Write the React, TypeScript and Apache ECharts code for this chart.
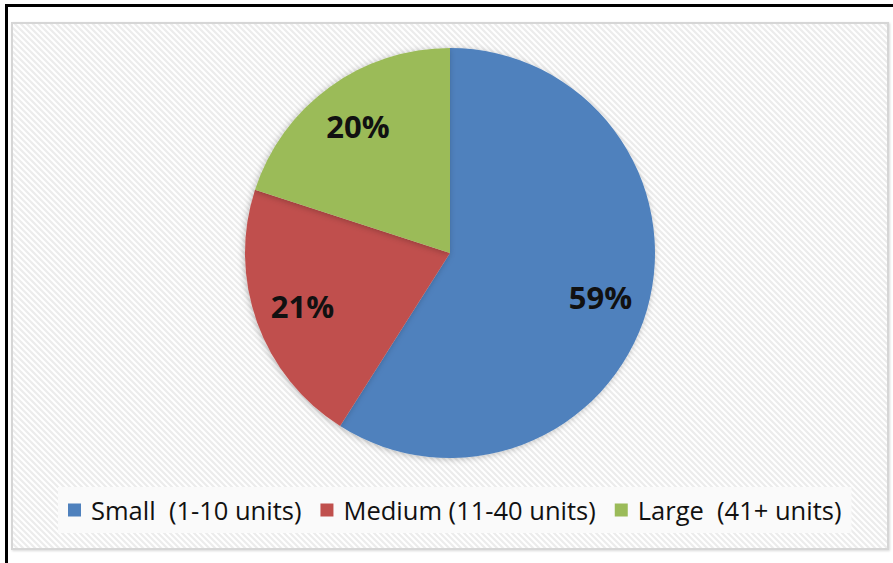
import React, { useEffect, useRef } from "react";
import * as echarts from "echarts";

const categories = ["Small  (1-10 units)", "Medium (11-40 units)", "Large  (41+ units)"];
const values = [59, 21, 20];
const colors = ["#4F81BD", "#C0504D", "#9BBB59"];

const stripeSvg =
  "data:image/svg+xml;utf8," +
  encodeURIComponent(
    '<svg xmlns="http://www.w3.org/2000/svg" width="6" height="6">' +
      '<rect width="6" height="6" fill="#ececec"/>' +
      '<path d="M-1,-1 L7,7 M-1,5 L1,7 M5,-1 L7,1" stroke="#ffffff" stroke-width="2"/>' +
      "</svg>"
  );

export default function App() {
  const ref = useRef<HTMLDivElement>(null);
  useEffect(() => {
    document.body.style.margin = "0";
    const chart = echarts.init(ref.current!, undefined, { renderer: "svg" });
    const data = categories.map((name, i) => ({ name, value: values[i], itemStyle: { color: colors[i] } }));
    chart.setOption({
      animation: false,
      backgroundColor: "#ffffff",
      graphic: [
        {
          type: "rect",
          z: -10,
          shape: { x: 12, y: 23, width: 876, height: 526 },
          style: {
            fill: { image: stripeSvg, repeat: "repeat" },
            stroke: "#d6d6d6",
            lineWidth: 2,
            shadowBlur: 2,
            shadowOffsetX: 1,
            shadowOffsetY: 1,
            shadowColor: "rgba(0,0,0,0.15)",
          },
        },
        { type: "line", shape: { x1: 6.5, y1: 4, x2: 6.5, y2: 563 }, style: { stroke: "#000", lineWidth: 3 } },
        { type: "line", shape: { x1: 5, y1: 5.5, x2: 893, y2: 5.5 }, style: { stroke: "#000", lineWidth: 3 } },
      ],
      legend: {
        data: categories,
        left: 58,
        top: 487,
        icon: "rect",
        itemWidth: 13,
        itemHeight: 13,
        itemGap: 19,
        backgroundColor: "#fafafa",
        padding: [10, 10],
        textStyle: { fontFamily: "Open Sans", fontSize: 25.5, color: "#111", padding: [0, 0, 0, 5] },
        selectedMode: false,
      },
      series: [
        {
          type: "pie",
          center: [450, 253],
          radius: [0, 205],
          startAngle: 90,
          clockwise: true,
          data,
          label: { show: false },
          labelLine: { show: false },
          itemStyle: { shadowBlur: 6, shadowOffsetX: -1, shadowOffsetY: 1, shadowColor: "rgba(0,0,0,0.25)", borderWidth: 0 },
          emphasis: { disabled: true },
          silent: true,
        },
        {
          type: "pie",
          center: [450, 253],
          radius: [102.5, 205],
          startAngle: 90,
          clockwise: true,
          data: categories.map((name, i) => ({ name, value: values[i] })),
          itemStyle: { color: "transparent" },
          label: {
            show: true,
            position: "inside",
            formatter: "{d}%",
            fontFamily: "Open Sans",
            fontWeight: "bold",
            fontSize: 31,
            color: "#111",
          },
          labelLine: { show: false },
          emphasis: { disabled: true },
          silent: true,
        },
      ],
    });
    return () => chart.dispose();
  }, []);
  return <div ref={ref} style={{ position: "fixed", left: 0, top: 0, width: 893, height: 563 }} />;
}
